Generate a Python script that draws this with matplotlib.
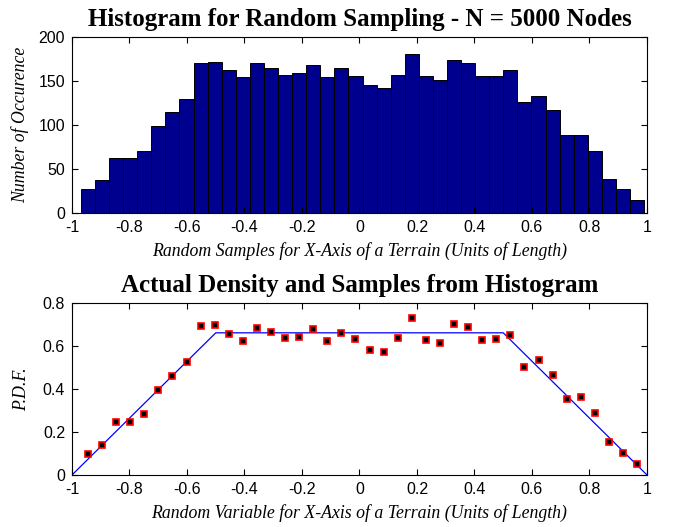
import matplotlib
matplotlib.use("Agg")
import matplotlib.pyplot as plt
import numpy as np

# histogram counts (40 bins)
counts = [27, 37, 63, 62, 71, 99, 115, 130, 171, 172,
          162, 154, 171, 165, 157, 159, 168, 154, 165, 156,
          145, 142, 157, 181, 156, 151, 174, 170, 156, 156,
          162, 126, 133, 117, 89, 89, 71, 39, 27, 15]
x_min = -0.969
x_max = 0.990

# pdf samples (bottom panel, red/black squares)
pdf_samples = [0.100, 0.141, 0.248, 0.248, 0.286, 0.396, 0.463, 0.526, 0.693, 0.700,
               0.657, 0.624, 0.686, 0.668, 0.637, 0.643, 0.680, 0.624, 0.662, 0.632,
               0.584, 0.571, 0.640, 0.731, 0.627, 0.615, 0.702, 0.688, 0.627, 0.634,
               0.652, 0.503, 0.534, 0.466, 0.356, 0.362, 0.287, 0.152, 0.102, 0.053]

# actual density (trapezoid)
density_x = [-1.0, -0.5, 0.5, 1.0]
density_y = [0.0, 0.662, 0.662, 0.0]

tick_font = "Liberation Sans"
serif = "Liberation Serif"

edges = np.linspace(x_min, x_max, len(counts) + 1)
width = edges[1] - edges[0]
centers = edges[:-1] + width / 2

fig = plt.figure(figsize=(6.76, 5.27), dpi=100)
ax1 = fig.add_axes([0.1065, 0.5958, 0.8506, 0.334])
ax2 = fig.add_axes([0.1065, 0.0987, 0.8506, 0.326])


def style_axes(ax):
    ax.tick_params(direction="in", top=True, right=True, length=4, width=0.8,
                   labelsize=11.5, pad=5)
    for lbl in ax.get_xticklabels() + ax.get_yticklabels():
        lbl.set_fontfamily(tick_font)
    for sp in ax.spines.values():
        sp.set_linewidth(0.8)


ax1.bar(edges[:-1], counts, width=width, align="edge", color="#00008F",
        edgecolor="black", linewidth=0.7)
ax1.set_xlim(-1, 1)
ax1.set_ylim(0, 200)
ax1.set_xticks(np.arange(-1, 1.01, 0.2))
ax1.set_xticklabels(["-1", "-0.8", "-0.6", "-0.4", "-0.2", "0", "0.2", "0.4", "0.6", "0.8", "1"])
ax1.set_yticks([0, 50, 100, 150, 200])
style_axes(ax1)
ax1.set_title("Histogram for Random Sampling - N = 5000 Nodes", fontfamily=serif,
              fontweight="bold", fontsize=18, pad=8)
ax1.set_xlabel("Random Samples for X-Axis of a Terrain (Units of Length)",
               fontfamily=serif, fontstyle="italic", fontsize=12.8, labelpad=5)
ax1.set_ylabel("Number of Occurence", fontfamily=serif, fontstyle="italic",
               fontsize=12.8, labelpad=7)

ax2.plot(density_x, density_y, color="#0000FF", linewidth=0.9)
ax2.plot(centers, pdf_samples, linestyle="none", marker="s", markersize=5,
         markerfacecolor="black", markeredgecolor="red", markeredgewidth=1.2)
ax2.set_xlim(-1, 1)
ax2.set_ylim(0, 0.8)
ax2.set_xticks(np.arange(-1, 1.01, 0.2))
ax2.set_xticklabels(["-1", "-0.8", "-0.6", "-0.4", "-0.2", "0", "0.2", "0.4", "0.6", "0.8", "1"])
ax2.set_yticks([0, 0.2, 0.4, 0.6, 0.8])
ax2.set_yticklabels(["0", "0.2", "0.4", "0.6", "0.8"])
style_axes(ax2)
ax2.set_title("Actual Density and Samples from Histogram", fontfamily=serif,
              fontweight="bold", fontsize=18, pad=8)
ax2.set_xlabel("Random Variable for X-Axis of a Terrain (Units of Length)",
               fontfamily=serif, fontstyle="italic", fontsize=12.8, labelpad=5)
ax2.set_ylabel("P.D.F.", fontfamily=serif, fontstyle="italic", fontsize=12.8, labelpad=9)

fig.savefig("out.png", dpi=100)
